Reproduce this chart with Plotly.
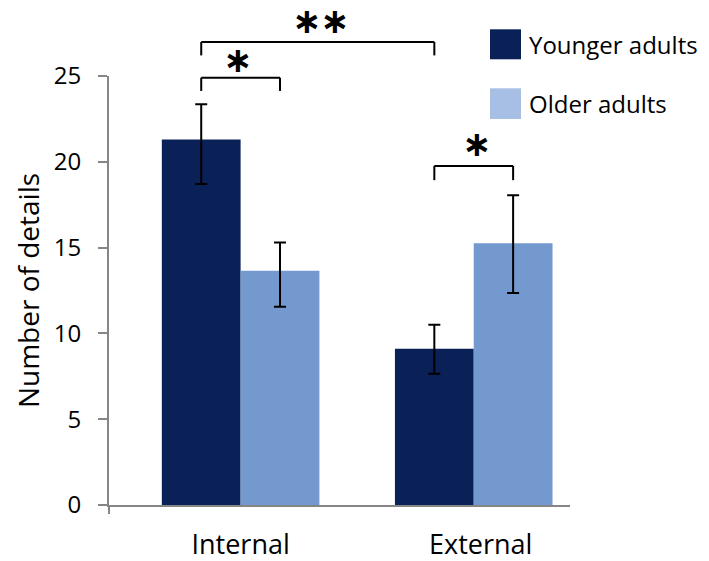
import plotly.graph_objects as go

categories = ["Internal", "External"]
series_names = ["Younger adults", "Older adults"]
younger = [21.3, 9.1]
younger_err_plus = [2.05, 1.4]
younger_err_minus = [2.6, 1.45]
older = [13.65, 15.25]
older_err_plus = [1.65, 2.8]
older_err_minus = [2.1, 2.9]
y_ticks = [0, 5, 10, 15, 20, 25]

# page body has an 8px margin; figure is sized to fit the window
OFF = 8
W = 709 - OFF; H = 561 - OFF
# plot area in screen pixels
SL, SR, ST, SB = 109, 570, 76, 505
L, R, T, B = SL - OFF, W + OFF - SR, ST - OFF, H + OFF - SB
XR = [-0.5646, 1.413]
YR = [0, 25]
PW = SR - SL
PH = SB - ST

def px_to_paper_x(px):
    return (px - SL) / PW

def px_to_paper_y(py):
    return (SB - py) / PH

navy = "#0a2157"
lightblue = "#7399cf"
legend_light = "#a8bfe5"
axis_gray = "#868686"
font = "Open Sans"

x_pos = list(range(len(categories)))
label_pos = [0, 1.03]
off = 0.169

fig = go.Figure()
fig.add_trace(go.Bar(
    x=x_pos, y=younger, name=series_names[0], marker=dict(color=navy, line=dict(width=0)),
    error_y=dict(type="data", symmetric=False, array=younger_err_plus, arrayminus=younger_err_minus,
                 color="black", thickness=2, width=6),
    showlegend=False))
fig.add_trace(go.Bar(
    x=x_pos, y=older, name=series_names[1], marker=dict(color=lightblue, line=dict(width=0)),
    error_y=dict(type="data", symmetric=False, array=older_err_plus, arrayminus=older_err_minus,
                 color="black", thickness=2, width=6),
    showlegend=False))

shapes = []
annotations = []

def star(x, y, size=35):
    annotations.append(dict(x=x, y=y / 25, xref="x", yref="paper", text="<b>∗</b>", showarrow=False,
                            font=dict(family="DejaVu Sans", size=size, color="black"),
                            xanchor="center", yanchor="middle"))

def bracket(xa, xb, ytop, ydrop):
    pts = [(xa, ydrop), (xa, ytop), (xb, ytop), (xb, ydrop)]
    for (p, q) in zip(pts[:-1], pts[1:]):
        shapes.append(dict(type="line", xref="x", yref="paper",
                           x0=p[0], y0=p[1] / 25, x1=q[0], y1=q[1] / 25,
                           line=dict(color="black", width=2)))

bracket(0 - off, 1 - off, 26.98, 26.2)
star(0.284, 28.2)
star(0.403, 28.2)
bracket(0 - off, 0 + off, 24.9, 24.13)
star(-0.013, 25.95)
bracket(1 - off, 1 + off, 19.76, 18.93)
star(1.013, 21.05)

# y-axis extension below the x-axis
shapes.append(dict(type="line", xref="paper", yref="paper", x0=0, x1=0, y0=0,
                   y1=px_to_paper_y(514), line=dict(color=axis_gray, width=2)))

# legend
legend_items = [(series_names[0], navy, 29.3, 59.3), (series_names[1], legend_light, 88.3, 119)]
for name, col, ya, yb in legend_items:
    shapes.append(dict(type="rect", xref="paper", yref="paper",
                       x0=px_to_paper_x(490), x1=px_to_paper_x(521),
                       y0=px_to_paper_y(yb), y1=px_to_paper_y(ya),
                       fillcolor=col, line=dict(width=0)))
    annotations.append(dict(x=px_to_paper_x(527), y=px_to_paper_y((ya + yb) / 2),
                            xref="paper", yref="paper", text=name, showarrow=False,
                            xanchor="left", yanchor="middle",
                            font=dict(family=font, size=24, color="black")))

fig.update_layout(
    width=W, height=H,
    margin=dict(l=L, r=R, t=T, b=B, pad=0),
    paper_bgcolor="white", plot_bgcolor="white",
    barmode="group", bargap=0.324, bargroupgap=0,
    shapes=shapes, annotations=annotations,
    font=dict(family=font, color="black"),
    xaxis=dict(range=XR, tickvals=label_pos, ticktext=categories, showgrid=False, zeroline=False,
               showline=True, linecolor=axis_gray, linewidth=2, automargin=False,
               ticks="outside", ticklen=15, tickcolor="rgba(0,0,0,0)",
               tickfont=dict(family=font, size=27, color="black")),
    yaxis=dict(range=YR, tickvals=y_ticks, showgrid=False, zeroline=False,
               showline=True, linecolor=axis_gray, linewidth=2, automargin=False,
               ticks="outside", ticklen=9, tickwidth=2, tickcolor=axis_gray,
               ticklabelstandoff=12,
               tickfont=dict(family=font, size=24, color="black"),
               title=dict(text="Number of details", standoff=6,
                          font=dict(family=font, size=28, color="black"))),
)

fig.write_html("out.html")
